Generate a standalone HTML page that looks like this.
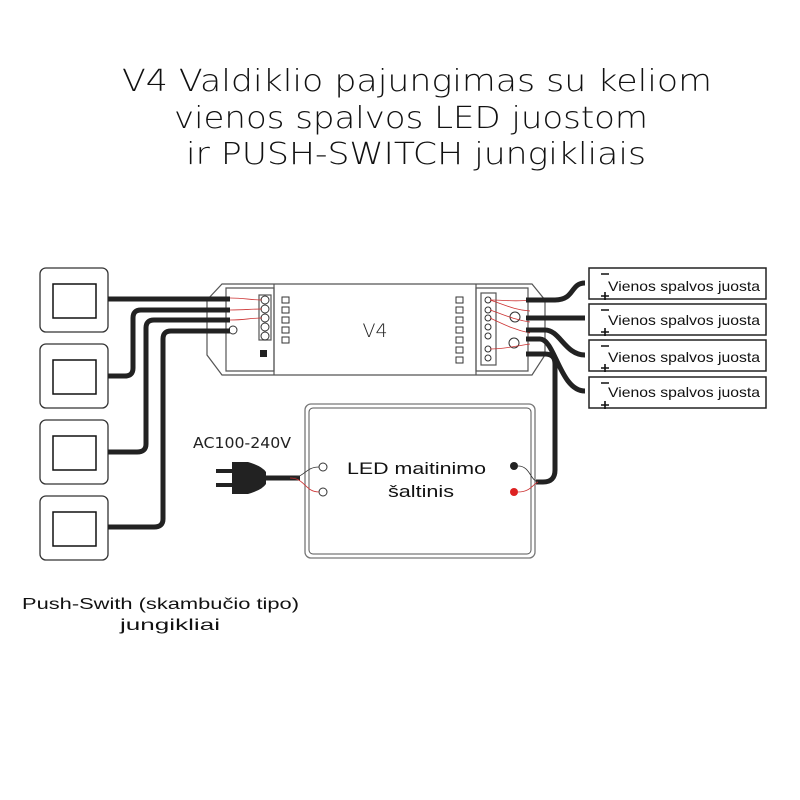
<!DOCTYPE html>
<html><head><meta charset="utf-8"><style>
body{margin:0;background:#fff;width:800px;height:800px;overflow:hidden}
svg{display:block}
</style></head><body>
<svg width="800" height="800" viewBox="0 0 800 800" xmlns="http://www.w3.org/2000/svg">
<g font-family="DejaVu Sans, Liberation Sans, sans-serif" font-size="30" fill="#111" style="font-weight:200" lengthAdjust="spacingAndGlyphs">
<text x="122" y="91" textLength="590" lengthAdjust="spacingAndGlyphs">V4 Valdiklio pajungimas su keliom</text>
<text x="174" y="128" textLength="474" lengthAdjust="spacingAndGlyphs">vienos spalvos LED juostom</text>
<text x="186" y="164" textLength="460" lengthAdjust="spacingAndGlyphs">ir PUSH-SWITCH jungikliais</text>
</g>
<g fill="none" stroke="#333" stroke-width="1.3">
<rect x="40" y="268" width="68" height="64" rx="6"/>
<rect x="40" y="344" width="68" height="64" rx="6"/>
<rect x="40" y="420" width="68" height="64" rx="6"/>
<rect x="40" y="496" width="68" height="64" rx="6"/>
</g>
<g fill="none" stroke="#111" stroke-width="1.5">
<rect x="53" y="284" width="43" height="34"/>
<rect x="53" y="360" width="43" height="34"/>
<rect x="53" y="436" width="43" height="34"/>
<rect x="53" y="512" width="43" height="34"/>
</g>
<!-- controller -->
<g fill="none" stroke="#555" stroke-width="1.2">
<path d="M222 284 H532 L545 300 V355 L532 375 H222 L207 355 V300 Z"/>
<path d="M226 288 H274 V371 H226 Z"/>
<path d="M476 288 H528 V371 H476 Z"/>
<line x1="274" y1="284" x2="274" y2="375"/>
<line x1="476" y1="284" x2="476" y2="375"/>
<rect x="259" y="295" width="12" height="45"/>
<rect x="481" y="293" width="15" height="72"/>
</g>
<g fill="none" stroke="#333" stroke-width="1">
<circle cx="265" cy="300" r="4"/><circle cx="265" cy="309" r="4"/><circle cx="265" cy="318" r="4"/><circle cx="265" cy="327" r="4"/><circle cx="265" cy="336" r="4"/>
<circle cx="488" cy="300" r="3"/><circle cx="488" cy="310" r="3"/><circle cx="488" cy="318" r="3"/><circle cx="488" cy="327" r="3"/><circle cx="488" cy="336" r="3"/><circle cx="488" cy="349" r="3"/><circle cx="488" cy="358" r="3"/>
<circle cx="233" cy="330" r="4"/><circle cx="515" cy="317" r="5"/><circle cx="514" cy="343" r="5"/>
<rect x="282" y="297" width="7" height="6"/><rect x="282" y="307" width="7" height="6"/><rect x="282" y="317" width="7" height="6"/><rect x="282" y="327" width="7" height="6"/><rect x="282" y="337" width="7" height="6"/>
<rect x="456" y="297" width="7" height="6"/><rect x="456" y="307" width="7" height="6"/><rect x="456" y="317" width="7" height="6"/><rect x="456" y="327" width="7" height="6"/><rect x="456" y="337" width="7" height="6"/><rect x="456" y="347" width="7" height="6"/><rect x="456" y="357" width="7" height="6"/>
</g>
<text x="375" y="337" font-family="DejaVu Sans, sans-serif" font-size="19" text-anchor="middle" fill="#222" style="font-weight:200">V4</text>
<rect x="260" y="350" width="7" height="7" fill="#222"/>
<g fill="none" stroke="#c33" stroke-width="0.8">
<path d="M230 298 C245 298 250 300 262 300"/><path d="M230 310 C245 310 250 309 262 309"/><path d="M230 320 C245 320 250 318 262 318"/>
<path d="M490 300 C505 300 515 302 530 300"/><path d="M490 300 C505 305 515 310 530 311"/><path d="M490 310 C505 315 515 320 530 322"/><path d="M490 318 C505 325 515 330 530 333"/><path d="M490 349 C505 349 515 346 530 344"/>
</g>
<!-- left cables -->
<g fill="none" stroke="#222" stroke-width="5" stroke-linecap="butt">
<path d="M108 299 H230"/>
<path d="M108 376 H125 Q133 376 133 368 V318 Q133 310 141 310 H230"/>
<path d="M108 452 H137 Q146 452 146 444 V328 Q146 320 154 320 H230"/>
<path d="M108 527 H154 Q163 527 163 519 V339 Q163 331 171 331 H230"/>
<path d="M526 300 H555 C575 300 570 283 585 283"/>
<path d="M526 318 H585"/>
<path d="M526 330 H545 C560 330 565 355 585 355"/>
<path d="M526 339 H540 C555 339 560 391 585 391"/>
<path d="M526 354 H545 Q555 354 555 364 V470 Q555 482 543 482 H536"/>
<path d="M262 478 H300"/>
</g>
<!-- strips -->
<g fill="none" stroke="#222" stroke-width="1.5">
<rect x="589" y="268" width="177" height="31"/>
<rect x="589" y="304" width="177" height="31"/>
<rect x="589" y="340" width="177" height="31"/>
<rect x="589" y="377" width="177" height="31"/>
</g>
<g font-family="Liberation Sans, sans-serif" font-size="14" fill="#111">
<text x="608" y="291" textLength="152" lengthAdjust="spacingAndGlyphs">Vienos spalvos juosta</text>
<text x="608" y="325" textLength="152" lengthAdjust="spacingAndGlyphs">Vienos spalvos juosta</text>
<text x="608" y="362" textLength="152" lengthAdjust="spacingAndGlyphs">Vienos spalvos juosta</text>
<text x="608" y="397" textLength="152" lengthAdjust="spacingAndGlyphs">Vienos spalvos juosta</text>
</g>
<g stroke="#111" stroke-width="1.6">
<path d="M601 274 h8 M601 296 h8 M605 292 v8"/>
<path d="M601 310 h8 M601 332 h8 M605 328 v8"/>
<path d="M601 346 h8 M601 368 h8 M605 364 v8"/>
<path d="M601 383 h8 M601 405 h8 M605 401 v8"/>
</g>
<!-- PSU -->
<rect x="305" y="404" width="230" height="154" rx="6" fill="none" stroke="#777" stroke-width="1.3"/>
<rect x="309" y="408" width="222" height="146" rx="4" fill="none" stroke="#555" stroke-width="1"/>
<g font-family="Liberation Sans, sans-serif" font-size="17" fill="#111">
<text x="347" y="474" textLength="139" lengthAdjust="spacingAndGlyphs">LED maitinimo</text>
<text x="388" y="497" textLength="66" lengthAdjust="spacingAndGlyphs">šaltinis</text>
</g>
<circle cx="323" cy="467" r="4" fill="none" stroke="#333"/>
<circle cx="323" cy="492" r="4" fill="none" stroke="#333"/>
<circle cx="514" cy="466" r="4" fill="#222"/>
<circle cx="514" cy="492" r="4" fill="#d22"/>
<path d="M290 478 C305 478 305 467 319 467" fill="none" stroke="#333" stroke-width="0.8"/>
<path d="M290 478 C305 478 305 492 319 492" fill="none" stroke="#c33" stroke-width="0.8"/>
<path d="M518 466 C530 466 530 480 538 482" fill="none" stroke="#333" stroke-width="0.8"/>
<path d="M518 492 C530 492 532 485 538 482" fill="none" stroke="#c33" stroke-width="0.8"/>
<text x="193" y="448" font-family="DejaVu Sans, sans-serif" font-size="15" fill="#222" textLength="98" lengthAdjust="spacingAndGlyphs">AC100-240V</text>
<path d="M232 462 H248 Q262 466 266 472 V484 Q262 490 248 494 H232 Z" fill="#222"/>
<rect x="216" y="469" width="17" height="4" fill="#222"/>
<rect x="216" y="483" width="17" height="4" fill="#222"/>
<g font-family="Liberation Sans, sans-serif" font-size="16" fill="#111">
<text x="22" y="609" textLength="277" lengthAdjust="spacingAndGlyphs">Push-Swith (skambučio tipo)</text>
<text x="120" y="630" textLength="100" lengthAdjust="spacingAndGlyphs">jungikliai</text>
</g>
</svg>
</body></html>
